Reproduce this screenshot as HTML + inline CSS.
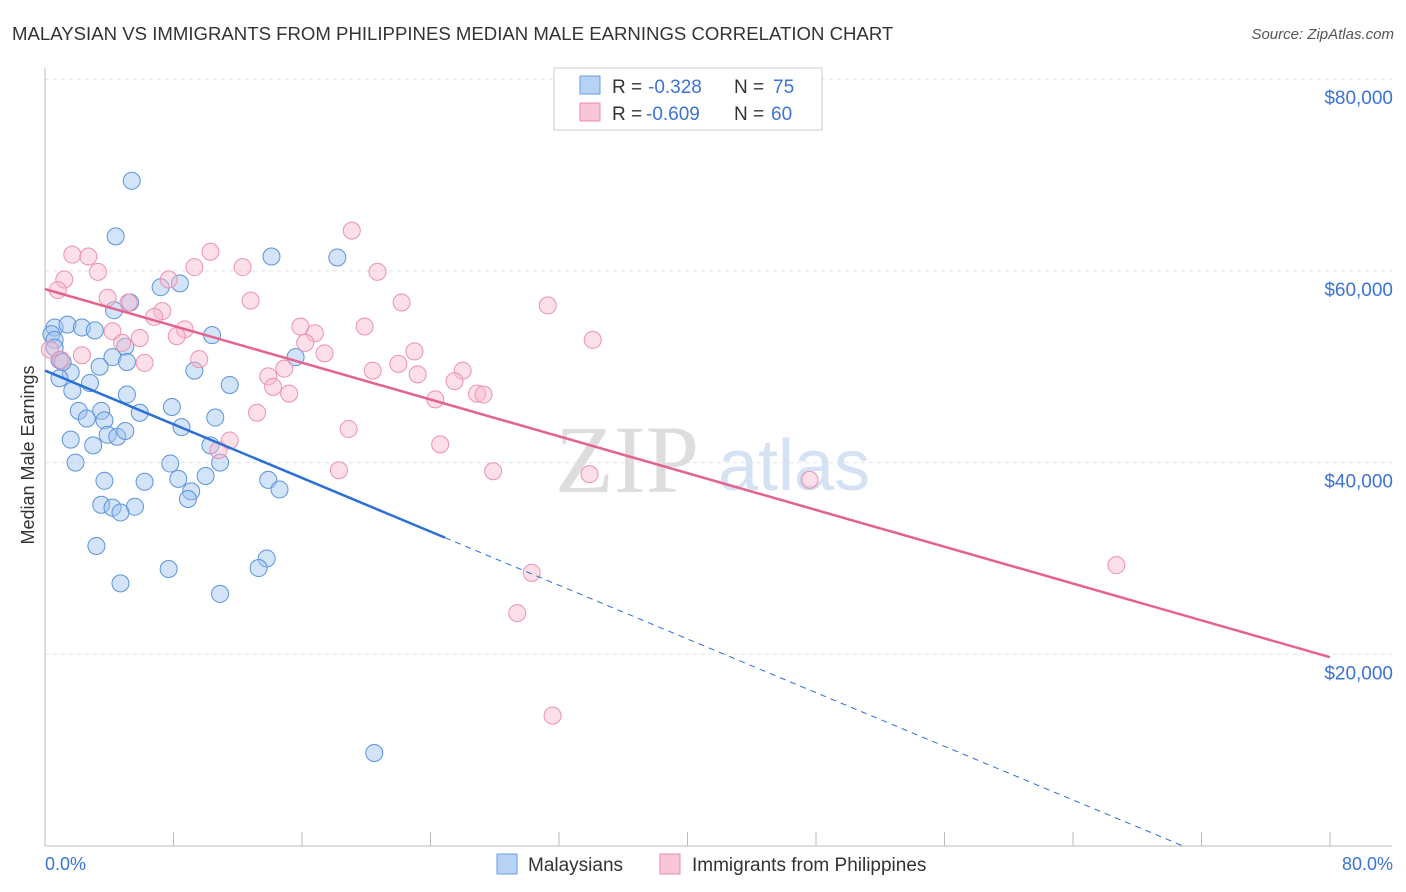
<!DOCTYPE html>
<html><head><meta charset="utf-8"><style>
body{margin:0;background:#fff;font-family:"Liberation Sans",sans-serif;}
</style></head><body>
<svg id="chart" width="1406" height="892" style="display:block">
<text x="12" y="40" font-size="18.6" fill="#333">MALAYSIAN VS IMMIGRANTS FROM PHILIPPINES MEDIAN MALE EARNINGS CORRELATION CHART</text>
<text x="1394" y="39" font-size="15" fill="#555" font-style="italic" text-anchor="end">Source: ZipAtlas.com</text>
<text x="555" y="492" font-size="96" fill="#ddd" font-family="Liberation Serif">ZIP</text>
<text x="718" y="490" font-size="72" fill="#d4e2f4">atlas</text>
<g id="grid"></g><g id="pts"></g><g id="lines"></g>
<text transform="translate(34,455) rotate(-90)" font-size="18" fill="#333" text-anchor="middle">Median Male Earnings</text>
<text x="45" y="870" font-size="18" fill="#3b73d6">0.0%</text>
<text x="1393" y="870" font-size="18" fill="#3b73d6" text-anchor="end">80.0%</text>
<g>
<rect x="554" y="68" width="268" height="62" fill="#fff" stroke="#ccc"/>
<rect x="580" y="76" width="20" height="18" fill="#b8d2f5" stroke="#6a9de0"/>
<rect x="580" y="103" width="20" height="18" fill="#f9c6d6" stroke="#e88aa8"/>
<text y="93" font-size="19" fill="#333"><tspan x="612">R =</tspan><tspan x="648" fill="#3b73d6">-0.328</tspan><tspan x="734">N =</tspan><tspan x="773" fill="#3b73d6">75</tspan></text>
<text y="120" font-size="19" fill="#333"><tspan x="612">R =</tspan><tspan x="646" fill="#3b73d6">-0.609</tspan><tspan x="734">N =</tspan><tspan x="771" fill="#3b73d6">60</tspan></text>
</g>
<g>
<rect x="497" y="854" width="20" height="20" fill="#b8d2f5" stroke="#6a9de0"/>
<text x="528" y="871" font-size="19" fill="#333">Malaysians</text>
<rect x="660" y="854" width="20" height="20" fill="#f9c6d6" stroke="#e88aa8"/>
<text x="692" y="871" font-size="19" fill="#333">Immigrants from Philippines</text>
</g>
</svg>
<script>
const yTicks=[20000,40000,60000,80000];
const yTickLabels=["$20,000","$40,000","$60,000","$80,000"];
const blueX=[5.4,4.4,14.1,18.2,7.2,8.4,4.3,5.3,0.6,1.4,2.3,3.1,0.4,0.6,10.4,5,0.9,4.2,5.1,15.6,3.4,1.6,9.3,0.9,2.8,11.5,1.7,5.1,2.1,5.9,7.9,3.5,2.6,10.6,3.7,8.5,3.9,4.5,5,1.6,3,10.3,1.9,7.8,10.9,13.9,3.7,6.2,8.3,10,9.1,14.6,8.9,3.5,4.2,5.6,4.7,13.8,13.3,3.2,7.7,4.7,10.9,20.5,1.1,0.6];
const blueY=[69.4,63.6,61.5,61.4,58.3,58.7,55.9,56.7,54.1,54.4,54.1,53.8,53.4,52.8,53.3,52.1,50.7,51,50.5,51,50,49.4,49.6,48.8,48.3,48.1,47.5,47.1,45.4,45.2,45.8,45.4,44.6,44.7,44.4,43.7,42.9,42.7,43.3,42.4,41.8,41.8,40,39.9,40,38.2,38.1,38,38.3,38.6,37,37.2,36.2,35.6,35.3,35.4,34.8,30,29,31.3,28.9,27.4,26.3,9.7,50.5,52];
const pinkX=[19.1,10.3,1.7,2.7,3.3,9.3,12.3,20.7,1.2,7.7,0.8,3.9,12.8,5.2,22.2,31.3,7.3,6.8,8.7,15.9,19.9,16.8,4.2,5.9,8.2,4.8,34.1,16.2,17.4,23,2.3,6.2,9.6,14.9,22,20.4,13.9,26,23.2,25.5,14.2,15.2,24.3,26.9,27.3,13.2,11.5,10.8,18.9,24.6,18.3,27.9,33.9,47.6,66.7,30.3,29.4,31.6,1,0.3];
const pinkY=[64.2,62,61.7,61.5,59.9,60.4,60.4,59.9,59.1,59.1,58,57.2,56.9,56.7,56.7,56.4,55.8,55.2,53.9,54.2,54.2,53.5,53.7,53,53.2,52.5,52.8,52.5,51.4,51.6,51.2,50.4,50.8,49.8,50.3,49.6,49,49.6,49.2,48.5,47.9,47.2,46.6,47.2,47.1,45.2,42.3,41.3,43.5,41.9,39.2,39.1,38.8,38.2,29.3,28.5,24.3,13.6,50.7,51.8];
const blueTrend=[49.6,-0.7];
const pinkTrend=[58.1,-0.48];
const ns='http://www.w3.org/2000/svg';
const X=v=>45+v/80*1285, Y=v=>846-v/20000*191.7;
function mk(t,a,p){const e=document.createElementNS(ns,t);for(const k in a)e.setAttribute(k,a[k]);p.appendChild(e);return e;}
const g=document.getElementById('grid');
yTicks.forEach((t,i)=>{
const l=mk('line',{x1:45,x2:1392,y1:Y(t),y2:Y(t),stroke:'#e2e2e2','stroke-dasharray':'4,4'},g);


const tx=mk('text',{x:1393,y:Y(t)+25,'font-size':19,fill:'#3b73d6','text-anchor':'end'},g);
tx.textContent=yTickLabels[i];


});
mk('line',{x1:45,x2:45,y1:68,y2:846,stroke:'#bbb'},g);
mk('line',{x1:45,x2:1392,y1:846,y2:846,stroke:'#bbb'},g);
for(let i=0;i<=10;i++){const t=mk('line',{x1:X(i*8),x2:X(i*8),y1:832,y2:846,stroke:'#bbb'},g);

}
const p=document.getElementById('pts');
blueX.forEach((x,i)=>{const c=mk('circle',{cx:X(x),cy:Y(blueY[i]*1000),r:8.5,fill:'rgba(160,195,240,0.45)',stroke:'#5b93dc','stroke-width':1},p);

});
pinkX.forEach((x,i)=>{const c=mk('circle',{cx:X(x),cy:Y(pinkY[i]*1000),r:8.5,fill:'rgba(248,185,205,0.45)',stroke:'#ec92ae','stroke-width':1},p);

});
const L=document.getElementById('lines');
const by=x=>(blueTrend[0]+blueTrend[1]*x)*1000, py=x=>(pinkTrend[0]+pinkTrend[1]*x)*1000;
const b1=mk('line',{x1:X(0),y1:Y(by(0)),x2:X(24.9),y2:Y(by(24.9)),stroke:'#2a6fd6','stroke-width':2.5},L);


const xe=-blueTrend[0]/blueTrend[1];
const b2=mk('line',{x1:X(24.9),y1:Y(by(24.9)),x2:X(xe),y2:Y(0),stroke:'#2a6fd6','stroke-width':1,'stroke-dasharray':'6,5'},L);


const p1=mk('line',{x1:X(0),y1:Y(py(0)),x2:X(80),y2:Y(py(80)),stroke:'#e4638e','stroke-width':2.5},L);


</script>
</body></html>
